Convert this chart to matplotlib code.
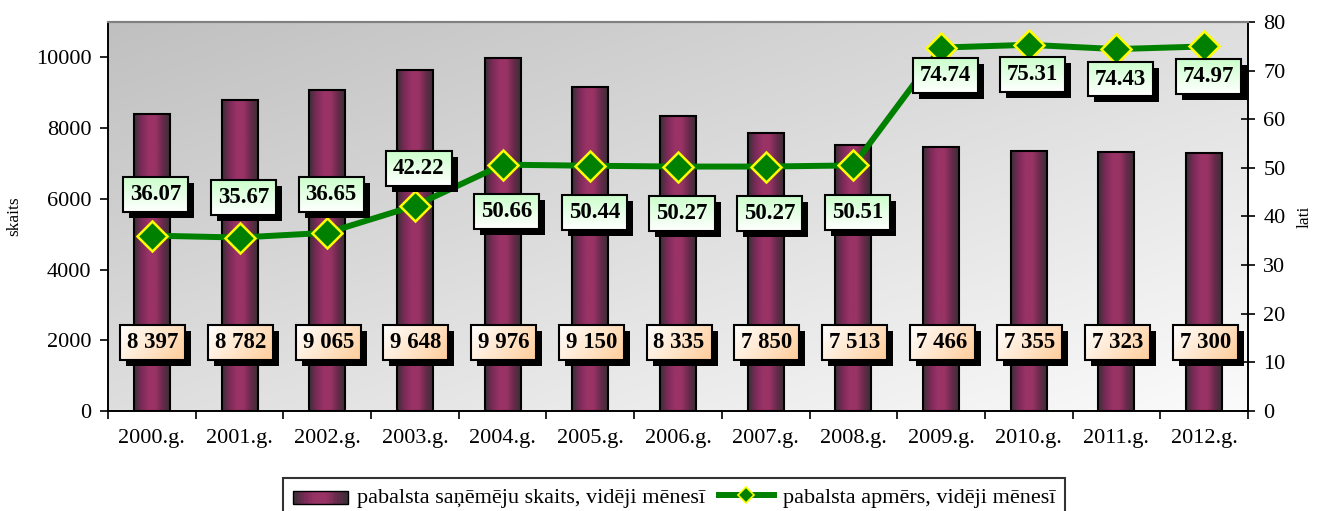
import numpy as np
import matplotlib
matplotlib.use("Agg")
import matplotlib.pyplot as plt
from matplotlib.colors import LinearSegmentedColormap
from matplotlib.patches import Rectangle
from matplotlib.lines import Line2D
from matplotlib.legend_handler import HandlerBase

plt.rcParams["font.family"] = ["Liberation Serif", "DejaVu Serif"]

years = ["2000.g.", "2001.g.", "2002.g.", "2003.g.", "2004.g.", "2005.g.", "2006.g.",
         "2007.g.", "2008.g.", "2009.g.", "2010.g.", "2011.g.", "2012.g."]
recipients = [8397, 8782, 9065, 9648, 9976, 9150, 8335, 7850, 7513, 7466, 7355, 7323, 7300]
benefit = [36.07, 35.67, 36.65, 42.22, 50.66, 50.44, 50.27, 50.27, 50.51, 74.74, 75.31, 74.43, 74.97]

bar_name = "pabalsta saņēmēju skaits, vidēji mēnesī"
line_name = "pabalsta apmērs, vidēji mēnesī"

# label placement (pixels relative to the point)
line_lbl_dy = [41, 40, 38, 37, -47, -47, -47, -47, -47, -28, -30, -30, -30]

bar_cmap = LinearSegmentedColormap.from_list(
    "cyl", ["#3a3035", "#7a2a58", "#993366", "#993366", "#6a2a4c", "#3a3035"])
peach = LinearSegmentedColormap.from_list("peach", ["#ffffff", "#ffe6cc", "#ffcc99"])
mint = LinearSegmentedColormap.from_list("mint", ["#ffffff", "#e6ffe6", "#ccffcc"])

fig = plt.figure(figsize=(13.17, 5.11), dpi=100)
ax = fig.add_axes([108 / 1317, 1 - 411 / 511, (1248 - 108) / 1317, (411 - 22) / 511])
ax2 = ax.twinx()
ax.patch.set_visible(False)

x = np.arange(len(years))
w = 0.41

# background gradient (grey top-left -> white bottom-right)
gx, gy = np.meshgrid(np.linspace(0, 1, 200), np.linspace(0, 1, 100))
g = (gx * 0.5 + gy * 0.5)
bgcmap = LinearSegmentedColormap.from_list("bg", ["#c0c0c0", "#dedede", "#fbfbfb"])
ax.imshow(g, cmap=bgcmap, extent=[0, 1, 0, 1], transform=ax.transAxes,
          aspect="auto", zorder=0, origin="upper")

ax.set_xlim(-0.5, len(years) - 0.5)
ax.set_ylim(0, 11000)
ax.set_autoscale_on(False)

grad = np.linspace(0, 1, 64).reshape(1, -1)
for xi, v in zip(x, recipients):
    ax.imshow(grad, cmap=bar_cmap, extent=[xi - w / 2, xi + w / 2, 0, v],
              aspect="auto", zorder=2)
    ax.add_patch(Rectangle((xi - w / 2, 0), w, v, fill=False, ec="black", lw=1.5, zorder=3))

ax2.set_ylim(0, 80)
ax2.plot(x, benefit, color="#008000", lw=4.3, marker="D", ms=15,
         mfc="#008000", mec="#ffff00", mew=1.8, zorder=5)
ax2.set_xlim(-0.5, len(years) - 0.5)
ax2.set_autoscale_on(False)

ax.set_yticks(range(0, 11000, 2000))
ax2.set_yticks(range(0, 81, 10))
ax.set_xticks(x)
ax.set_xticklabels(years)
ax.set_xticks(np.arange(-0.5, len(years), 1), minor=True)
ax.tick_params(axis="x", which="major", length=0, pad=13, labelsize=16)
ax.tick_params(axis="x", which="minor", length=6, width=1.2, direction="out")
ax.tick_params(axis="y", length=6, width=1.2, direction="out", labelsize=16, pad=6)
ax2.tick_params(axis="y", length=10, width=1.2, direction="inout", labelsize=16, pad=6)
for a in (ax, ax2):
    for s in ("left", "right", "bottom"):
        a.spines[s].set_color("black")
        a.spines[s].set_linewidth(1.2)
    a.spines["top"].set_color("#808080")
    a.spines["top"].set_linewidth(1.5)
ax.set_ylabel("skaits", fontsize=12.5)
ax2.set_ylabel("lati", fontsize=12.5)
ax.yaxis.set_label_coords(-0.075, 0.5)
ax2.yaxis.set_label_coords(1.043, 0.5)

texts = []
for xi, v in zip(x, recipients):
    lbl = f"{v:,}".replace(",", " ")
    t = ax2.annotate(lbl, (xi, 2000 / 11000 * 80), xytext=(1, -2), textcoords="offset pixels",
                     ha="center", va="center", fontsize=16.5, fontweight="bold", zorder=9,
                     bbox=dict(boxstyle="square,pad=0.3", fc="none", ec="black", lw=1.5))
    texts.append((t, peach))
for xi, v, dy in zip(x, benefit, line_lbl_dy):
    t = ax2.annotate(f"{v:.2f}", (xi, v), xytext=(4, dy), textcoords="offset pixels",
                     ha="center", va="center", fontsize=16.5, fontweight="bold", zorder=9,
                     bbox=dict(boxstyle="square,pad=0.3", fc="none", ec="black", lw=1.5))
    texts.append((t, mint))


class GradHandler(HandlerBase):
    def create_artists(self, legend, orig, xd, yd, width, height, fontsize, trans):
        n = 20
        arts = []
        for i in range(n):
            r = Rectangle((xd + width * i / n, yd), width / n + 0.3, height,
                          fc=bar_cmap(i / (n - 1)), ec="none", transform=trans)
            arts.append(r)
        arts.append(Rectangle((xd, yd), width, height, fill=False, ec="black", lw=1, transform=trans))
        return arts


bar_handle = Rectangle((0, 0), 1, 1)
line_handle = Line2D([], [], color="#008000", lw=4.3, marker="D", ms=8,
                     mfc="#008000", mec="#ffff00", mew=1.2)
leg = fig.legend([bar_handle, line_handle], [bar_name, line_name],
                 handler_map={Rectangle: GradHandler()}, loc="lower center",
                 bbox_to_anchor=(0.5118, -0.035), ncol=2, frameon=True, fancybox=False,
                 edgecolor="black", fontsize=16, handlelength=2.5, handleheight=0.55,
                 handletextpad=0.4, columnspacing=0.6, borderpad=0.45)
leg.get_frame().set_linewidth(1.5)

# gradient fill + shadow behind label boxes
fig.canvas.draw()
inv = ax2.transData.inverted()
for t, cm in texts:
    bb = t.get_bbox_patch().get_window_extent()
    (x0, y0), (x1, y1) = inv.transform([[bb.x0, bb.y0], [bb.x1, bb.y1]])
    (sx0, sy0), (sx1, sy1) = inv.transform([[bb.x0 + 6, bb.y0 - 6], [bb.x1 + 6, bb.y1 - 6]])
    ax2.add_patch(Rectangle((sx0, sy0), sx1 - sx0, sy1 - sy0, fc="black", ec="none", zorder=7))
    vg = np.linspace(0, 1, 32).reshape(-1, 1)
    if cm is peach:
        img = np.linspace(0, 1, 64).reshape(1, -1) * 0.7 + vg[::-1] * 0.3
    else:
        img = vg
    ax2.imshow(img, cmap=cm, extent=[x0, x1, y0, y1], aspect="auto", zorder=8, origin="lower")

ax2.set_xlim(-0.5, len(years) - 0.5)
ax2.set_ylim(0, 80)

fig.savefig("out.png", dpi=100)
